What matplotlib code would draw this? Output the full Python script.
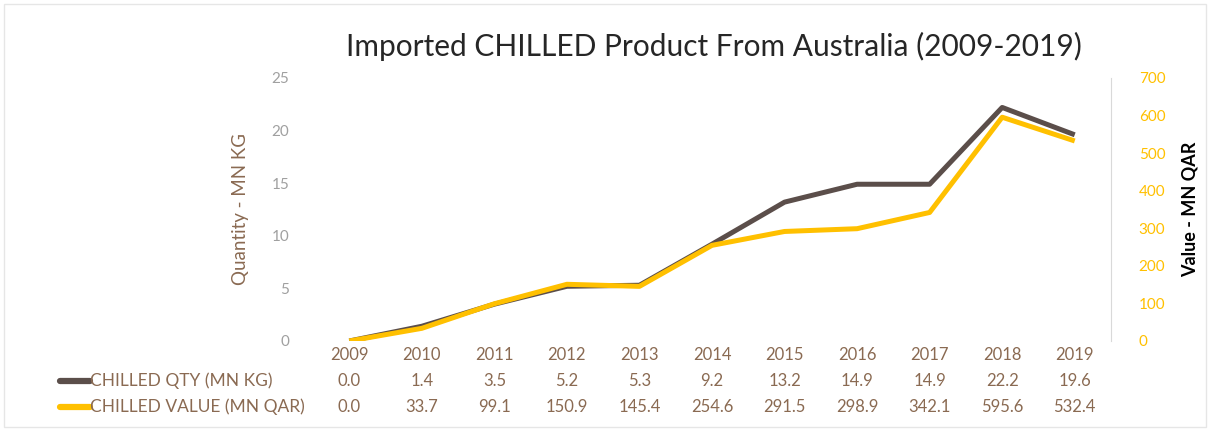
import matplotlib.pyplot as plt
import matplotlib.transforms as mtransforms
import numpy as np

years = ["2009", "2010", "2011", "2012", "2013", "2014", "2015", "2016", "2017", "2018", "2019"]
qty = [0.0, 1.4, 3.5, 5.2, 5.3, 9.2, 13.2, 14.9, 14.9, 22.2, 19.6]
value = [0.0, 33.7, 99.1, 150.9, 145.4, 254.6, 291.5, 298.9, 342.1, 595.6, 532.4]
qty_label = "CHILLED QTY (MN KG)"
value_label = "CHILLED VALUE (MN QAR)"

plt.rcParams["font.family"] = ["Lato", "DejaVu Sans"]
brown = "#8a6a52"
qty_color = "#5b4e4a"
val_color = "#ffc000"

fig = plt.figure(figsize=(12.15, 4.34), dpi=100)
ax = fig.add_axes([0.2576, 0.2143, 0.6568, 0.606])
ax2 = ax.twinx()

x = np.arange(len(years))
ax.plot(x, qty, color=qty_color, lw=3.6, solid_capstyle="butt", zorder=2)
ax2.plot(x, value, color=val_color, lw=3.6, solid_capstyle="butt", zorder=3)

ax.set_xlim(-0.5, len(years) - 0.5)
ax.set_ylim(0, 25)
ax2.set_ylim(0, 700)
ax.set_yticks(np.arange(0, 26, 5))
ax2.set_yticks(np.arange(0, 701, 100))
ax.set_xticks(x)
ax.set_xticklabels(years)

for spine in ax.spines.values():
    spine.set_visible(False)
for spine in ax2.spines.values():
    spine.set_visible(False)
ax2.spines["right"].set_visible(True)
ax2.spines["right"].set_color("#d9d9d9")

ax.tick_params(axis="x", length=0, pad=4, labelsize=12, labelcolor=brown)
ax.tick_params(axis="y", length=0, pad=17, labelsize=11, labelcolor="#a0a0a0")
ax2.tick_params(axis="y", length=0, pad=20, labelsize=11, labelcolor=val_color)
for lbl in ax2.get_yticklabels():
    lbl.set_ha("left")

ax.set_ylabel("Quantity - MN KG", color=brown, fontsize=13.5, labelpad=16)
ax2.set_ylabel("Value - MN QAR", color="black", fontsize=13, fontweight="bold", labelpad=12)

fig.text(0.588, 0.892, "Imported CHILLED Product From Australia (2009-2019)",
         ha="center", va="center", fontsize=21.5, color="#262626")

# data table below the chart
trans = mtransforms.blended_transform_factory(ax.transData, fig.transFigure)
row_y = [1 - 381 / 434, 1 - 407 / 434]
for i in range(len(years)):
    ax.text(x[i], row_y[0], f"{qty[i]:.1f}", transform=trans, ha="center", va="center",
            fontsize=12, color=brown)
    ax.text(x[i], row_y[1], f"{value[i]:.1f}", transform=trans, ha="center", va="center",
            fontsize=12, color=brown)

for yy, col, label in zip(row_y, [qty_color, val_color], [qty_label, value_label]):
    fig.add_artist(plt.Line2D([60 / 1215, 90 / 1215], [yy, yy], color=col, lw=4.5,
                              solid_capstyle="round", transform=fig.transFigure))
    fig.text(90 / 1215, yy, label, ha="left", va="center", fontsize=12.5, color=brown)

fig.add_artist(plt.Rectangle((0.003, 0.015), 0.99, 0.975, transform=fig.transFigure,
                             fill=False, edgecolor="#e6e6e6", lw=1))

fig.savefig("out.png", dpi=100)
